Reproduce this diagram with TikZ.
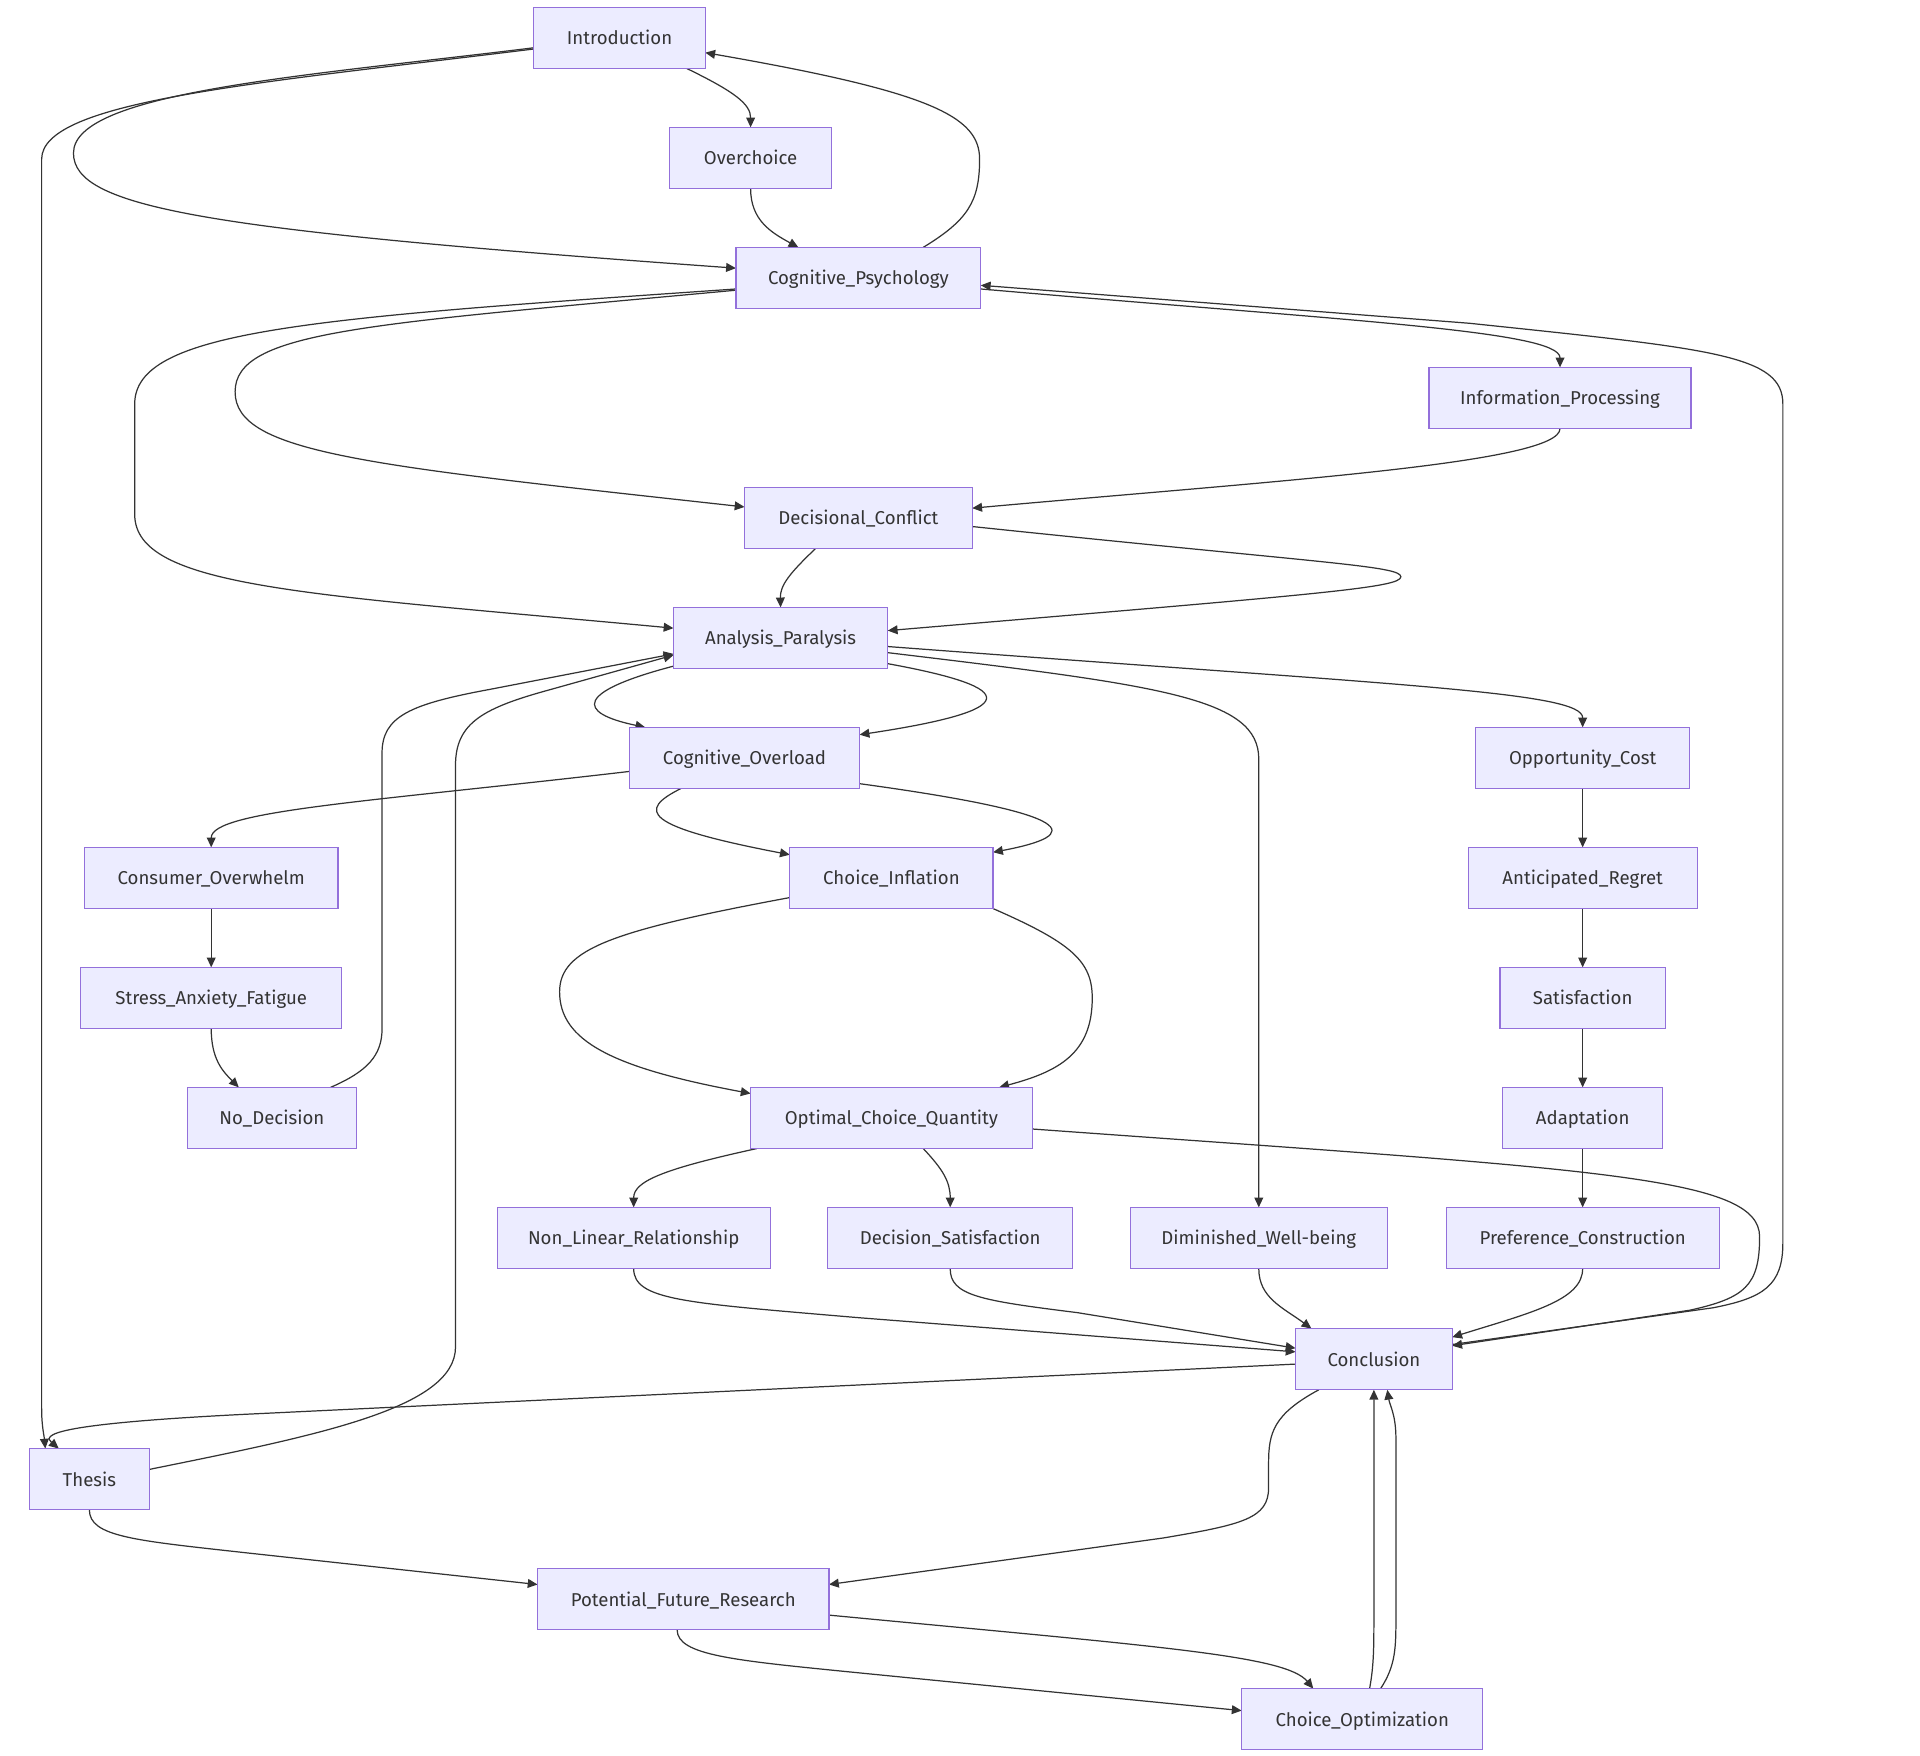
\documentclass[tikz,border=0pt]{standalone}
\usepackage{fontspec}
\setmainfont{Fira Sans}
\usetikzlibrary{arrows.meta,calc}
\definecolor{boxfill}{HTML}{ECECFF}
\definecolor{boxborder}{HTML}{9370DB}
\definecolor{linec}{HTML}{333333}
\pgfdeclarelayer{bg}
\pgfsetlayers{bg,main}
\begin{document}
\begin{tikzpicture}[x=0.5pt,y=-0.5pt,
  box/.style={draw=boxborder, fill=boxfill, line width=0.5pt, minimum height=25pt,
    inner sep=0pt, outer sep=0pt, text=linec, text height=5.8pt, text depth=0.2pt,
    font=\fontsize{7.6}{9}\selectfont},
  edge/.style={draw=linec, line width=0.5pt, -{Triangle[length=4pt,width=3.6pt]}}]
\useasboundingbox (0,0) rectangle (1568,1434);
\node[box, minimum width=70pt] (intro) at (506,31) {Introduction};
\node[box, minimum width=66pt] (over) at (613,129) {Overchoice};
\node[box, minimum width=100pt] (cogpsy) at (701,227) {Cognitive\_Psychology};
\node[box, minimum width=107pt] (info) at (1274,325) {Information\_Processing};
\node[box, minimum width=93pt] (dec) at (701,423) {Decisional\_Conflict};
\node[box, minimum width=87.5pt] (ap) at (637.5,521) {Analysis\_Paralysis};
\node[box, minimum width=94pt] (co) at (608,619) {Cognitive\_Overload};
\node[box, minimum width=87.5pt] (oc) at (1292.5,619) {Opportunity\_Cost};
\node[box, minimum width=103.5pt] (cow) at (172.5,717) {Consumer\_Overwhelm};
\node[box, minimum width=83pt] (ci) at (728,717) {Choice\_Inflation};
\node[box, minimum width=93.5pt] (ar) at (1292.5,717) {Anticipated\_Regret};
\node[box, minimum width=106.5pt] (saf) at (172.5,815) {Stress\_Anxiety\_Fatigue};
\node[box, minimum width=67.5pt] (sat) at (1292.5,815) {Satisfaction};
\node[box, minimum width=69pt] (nd) at (222,913) {No\_Decision};
\node[box, minimum width=115pt] (ocq) at (728,913) {Optimal\_Choice\_Quantity};
\node[box, minimum width=65.5pt] (ad) at (1292.5,913) {Adaptation};
\node[box, minimum width=111.5pt] (nl) at (517.5,1011) {Non\_Linear\_Relationship};
\node[box, minimum width=100pt] (ds) at (776,1011) {Decision\_Satisfaction};
\node[box, minimum width=105pt] (dw) at (1028,1011) {Diminished\_Well-being};
\node[box, minimum width=111.5pt] (pc) at (1292.5,1011) {Preference\_Construction};
\node[box, minimum width=64pt] (concl) at (1122,1110) {Conclusion};
\node[box, minimum width=49pt] (thesis) at (73,1208) {Thesis};
\node[box, minimum width=119pt] (pfr) at (558,1306) {Potential\_Future\_Research};
\node[box, minimum width=98.5pt] (cho) at (1112.5,1404) {Choice\_Optimization};
\begin{pgfonlayer}{bg}
\fill[white] (0,0) rectangle (1568,1434);
% Introduction
\draw[edge] ($(intro.south)+(55,0)$) .. controls (600,75) and (613,85) .. (over.north);
\draw[edge] ($(intro.west)+(0,8)$) .. controls (250,62) and (60,75) .. (60,125) .. controls (60,170) and (170,188) .. ($(cogpsy.west)+(0,-8)$);
\draw[edge] ($(intro.west)+(0,9)$) .. controls (210,68) and (34,82) .. (34,130) -- (34,1150) .. controls (34,1165) and (36,1172) .. ($(thesis.north)+(-36,0)$);
\draw[edge] (over.south) .. controls (613,180) and (630,190) .. ($(cogpsy.north)+(-49,0)$);
\draw[edge] ($(cogpsy.north)+(53,0)$) .. controls (790,180) and (800,165) .. (800,130) .. controls (800,95) and (760,75) .. ($(intro.east)+(0,12)$);
% Cognitive_Psychology
\draw[edge] ($(cogpsy.east)+(0,9)$) .. controls (1100,262) and (1274,270) .. (info.north);
\draw[edge] ($(concl.east)+(0,-12)$) -- (1399,1068) .. controls (1440,1060) and (1456,1050) .. (1456,1015) -- (1456,330) .. controls (1456,290) and (1400,285) .. (1200,264) -- ($(cogpsy.east)+(0,6)$);
\draw[edge] ($(cogpsy.west)+(0,10)$) .. controls (300,265) and (192,270) .. (192,320) .. controls (192,370) and (300,380) .. ($(dec.west)+(0,-9)$);
\draw[edge] ($(cogpsy.west)+(0,9)$) .. controls (250,260) and (110,270) .. (110,330) -- (110,420) .. controls (110,480) and (250,485) .. ($(ap.west)+(0,-8)$);
\draw[edge] (info.south) .. controls (1274,378) and (1050,392) .. ($(dec.east)+(0,-8)$);
% Decisional_Conflict
\draw[edge] ($(dec.south)+(-35,0)$) .. controls (645,468) and (637,478) .. (ap.north);
\draw[edge] ($(dec.east)+(0,7)$) .. controls (1080,460) and (1144,462) .. (1144,471) .. controls (1144,480) and (1080,485) .. ($(ap.east)+(0,-6)$);
% Analysis_Paralysis
\draw[edge] ($(ap.south west)+(0,-2)$) .. controls (470,565) and (470,582) .. ($(co.north west)+(13,0)$);
\draw[edge] ($(ap.east)+(0,21)$) .. controls (835,562) and (835,580) .. ($(co.east)+(0,-19)$);
\draw[edge] ($(ap.east)+(0,12)$) .. controls (950,560) and (1028,570) .. (1028,620) -- (dw.north);
\draw[edge] ($(ap.east)+(0,7)$) .. controls (1150,560) and (1292.5,565) .. (oc.north);
\draw[edge] ($(nd.north)+(48,0)$) .. controls (300,875) and (312,862) .. (312,840) -- (312,615) .. controls (312,585) and (335,575) .. (400,563) -- ($(ap.west)+(0,13)$);
\draw[edge] ($(thesis.east)+(0,-8)$) .. controls (260,1172) and (372,1150) .. (372,1100) -- (372,625) .. controls (372,590) and (395,578) .. (450,563) -- ($(ap.west)+(0,14)$);
% Cognitive_Overload
\draw[edge] ($(co.west)+(0,11)$) .. controls (300,655) and (172.5,662) .. (cow.north);
\draw[edge] ($(co.south)+(-52,0)$) .. controls (520,662) and (525,675) .. ($(ci.west)+(0,-19)$);
\draw[edge] ($(co.east)+(0,21)$) .. controls (885,665) and (885,682) .. ($(ci.east)+(0,-21)$);
\draw[edge] (cow.south) -- (saf.north);
\draw[edge] (saf.south) .. controls (172.5,865) and (182,875) .. ($(nd.north)+(-27,0)$);
% Choice_Inflation
\draw[edge] ($(ci.west)+(0,16)$) .. controls (500,760) and (457,775) .. (457,810) .. controls (457,850) and (500,872) .. ($(ocq.west)+(0,-20)$);
\draw[edge] (ci.south east) .. controls (875,770) and (892,785) .. (892,815) .. controls (892,860) and (865,875) .. ($(ocq.north)+(88,0)$);
% right column
\draw[edge] (oc.south) -- (ar.north);
\draw[edge] (ar.south) -- (sat.north);
\draw[edge] (sat.south) -- (ad.north);
\draw[edge] (ad.south) -- (pc.north);
% Optimal_Choice_Quantity
\draw[edge] ($(ocq.south west)+(5,0)$) .. controls (540,955) and (517.5,965) .. (nl.north);
\draw[edge] ($(ocq.south)+(26,0)$) .. controls (770,955) and (776,965) .. (ds.north);
\draw[edge] ($(ocq.east)+(0,9)$) .. controls (1300,955) and (1437,960) .. (1437,1010) .. controls (1437,1050) and (1425,1060) .. (1380,1070) -- ($(concl.east)+(0,-11)$);
% into Conclusion
\draw[edge] (nl.south) .. controls (517.5,1062) and (560,1064) .. (700,1076) -- ($(concl.west)+(0,-6)$);
\draw[edge] (ds.south) .. controls (776,1058) and (800,1062) .. (880,1072) -- ($(concl.west)+(0,-9)$);
\draw[edge] (dw.south) .. controls (1028,1060) and (1048,1068) .. ($(concl.north)+(-51,0)$);
\draw[edge] (pc.south) .. controls (1292.5,1062) and (1250,1072) .. ($(concl.east)+(0,-18)$);
% Conclusion out
\draw[edge] ($(concl.west)+(0,4)$) -- (200,1155) .. controls (40,1163) and (35,1172) .. ($(thesis.north)+(-25,0)$);
\draw[edge] ($(concl.south)+(-45,0)$) .. controls (1040,1155) and (1036,1170) .. (1036,1195) -- (1036,1215) .. controls (1036,1240) and (1015,1245) .. (950,1256) -- ($(pfr.east)+(0,-12)$);
% Thesis
\draw[edge] (thesis.south) .. controls (73,1255) and (110,1258) .. (200,1268) -- ($(pfr.west)+(0,-12)$);
% Potential_Future_Research
\draw[edge] ($(pfr.east)+(0,13)$) .. controls (950,1345) and (1050,1352) .. ($(cho.north)+(-40,0)$);
\draw[edge] ($(pfr.south)+(-5,0)$) .. controls (553,1352) and (600,1356) .. (700,1366) -- ($(cho.west)+(0,-7)$);
% Choice_Optimization
\draw[edge] ($(cho.north)+(6,0)$) .. controls (1122,1360) and (1122,1345) .. (1122,1320) -- (concl.south);
\draw[edge] ($(cho.north)+(15,0)$) .. controls (1140,1360) and (1140,1345) .. (1140,1320) -- (1140,1175) .. controls (1140,1155) and (1135,1148) .. ($(concl.south)+(11,0)$);
\end{pgfonlayer}
\end{tikzpicture}
\end{document}
